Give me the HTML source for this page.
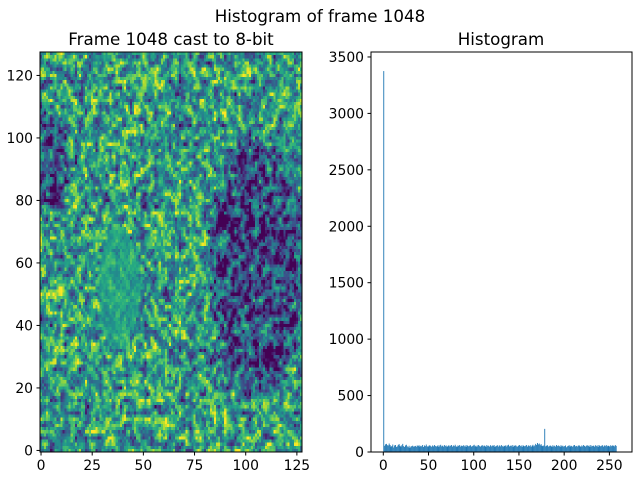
<!DOCTYPE html>
<html><head><meta charset="utf-8"><style>
body{margin:0;background:#fff;font-family:"DejaVu Sans","Liberation Sans",sans-serif}
#wrap{position:relative;width:640px;height:480px}
canvas{position:absolute}
</style></head><body>
<div id="wrap">
<canvas id="img" width="128" height="128" style="left:40px;top:52px;width:262px;height:400px;image-rendering:pixelated"></canvas>
<svg id="svg" width="640" height="480" style="position:absolute;left:0;top:0"></svg>
</div>
<script>
const histCounts=[3375,55,68,72,60,58,75,62,48,52,66,40,58,62,45,50,63,70,55,48,60,72,52,45,58,64,50,42,55,38,48,52,56,48,50,54,46,58,52,60,48,55,50,62,45,58,52,66,50,48,
56,60,52,46,58,50,62,54,48,52,60,46,58,64,50,56,48,62,52,58,46,54,60,50,56,62,48,58,52,64,50,46,58,54,62,48,56,52,60,50,58,46,62,54,50,56,60,48,52,58,
64,50,56,46,58,62,52,48,56,60,50,58,54,46,62,52,56,48,60,50,58,54,62,46,52,56,60,48,58,50,62,54,46,56,52,60,48,58,64,50,56,52,62,46,58,54,60,50,48,56,
62,52,58,46,60,54,50,56,62,48,58,52,60,46,56,64,50,58,72,62,80,68,75,60,70,56,52,58,205,50,56,60,48,52,58,54,46,60,50,56,48,62,52,58,54,46,60,50,56,48,
52,58,42,50,54,60,48,56,52,46,58,62,50,54,48,56,60,52,46,58,50,62,54,48,56,60,52,58,46,62,50,54,56,48,60,52,58,46,62,54,50,56,60,48,58,52,62,50,56,54,
48,60,52,58,56,50,62,54];
const histXTicks=[0,50,100,150,200,250];
const histYTicks=[0,500,1000,1500,2000,2500,3000,3500];
const imgXTicks=[0,25,50,75,100,125];
const imgYTicks=[0,20,40,60,80,100,120];
const NS="http://www.w3.org/2000/svg";
const svg=document.getElementById('svg');
function mk(t,a,txt){const e=document.createElementNS(NS,t);for(const k in a)e.setAttribute(k,a[k]);if(txt!==undefined)e.textContent=txt;svg.appendChild(e);return e;}
let t=mk('text',{x:320,y:22,'text-anchor':'middle','font-size':16.7,fill:'#000'},'Histogram of frame 1048');

t=mk('text',{x:171,y:45,'text-anchor':'middle','font-size':16.7,fill:'#000'},'Frame 1048 cast to 8-bit');

t=mk('text',{x:501,y:45,'text-anchor':'middle','font-size':16.7,fill:'#000'},'Histogram');

const iL=40,iR=302,iT=52,iB=452;
const ix=v=>iL+(v+0.5)/128*(iR-iL), iy=v=>iB-(v+0.5)/128*(iB-iT);
imgXTicks.forEach(v=>{const x=ix(v);let l=mk('line',{x1:x,x2:x,y1:iB,y2:iB+3.5,stroke:'#000'});
let s=mk('text',{x:x,y:iB+18,'text-anchor':'middle','font-size':13.9},v);});
imgYTicks.forEach(v=>{const y=iy(v);let l=mk('line',{x1:iL-3.5,x2:iL,y1:y,y2:y,stroke:'#000'});
let s=mk('text',{x:iL-7,y:y+5,'text-anchor':'end','font-size':13.9},v);});
let r=mk('rect',{x:iL,y:iT,width:iR-iL,height:iB-iT,fill:'none',stroke:'#000','stroke-width':1});

const hL=371,hR=632,hT=52,hB=452,xmin=-13.6,xmax=275,ymax=3544;
const hx=v=>hL+(v-xmin)/(xmax-xmin)*(hR-hL), hy=v=>hB-v/ymax*(hB-hT);
histCounts.forEach((c,i)=>{const x0=hx(i),x1=hx(i+1);let b=mk('rect',{x:x0,y:hy(c),width:Math.max(x1-x0,0.6),height:hB-hy(c),fill:'#1f77b4'});
});
histXTicks.forEach(v=>{const x=hx(v);let l=mk('line',{x1:x,x2:x,y1:hB,y2:hB+3.5,stroke:'#000'});
let s=mk('text',{x:x,y:hB+18,'text-anchor':'middle','font-size':13.9},v);});
histYTicks.forEach(v=>{const y=hy(v);let l=mk('line',{x1:hL-3.5,x2:hL,y1:y,y2:y,stroke:'#000'});
let s=mk('text',{x:hL-7,y:y+5,'text-anchor':'end','font-size':13.9},v);});
r=mk('rect',{x:hL,y:hT,width:hR-hL,height:hB-hT,fill:'none',stroke:'#000','stroke-width':1});

// image texture
const cv=document.getElementById('img'),ctx=cv.getContext('2d'),id=ctx.createImageData(128,128);
const vir=[[68,1,84],[71,45,123],[59,82,139],[44,114,142],[33,145,140],[40,174,128],[94,201,98],[173,220,48],[253,231,37]];
function cmap(v){v=Math.max(0,Math.min(1,v))*8;const i=Math.min(7,Math.floor(v)),f=v-i;return vir[i].map((a,j)=>a+(vir[i+1][j]-a)*f);}
function h(x,y){let n=Math.sin(x*127.1+y*311.7+17.3)*43758.5453;return n-Math.floor(n);}
function vn(x,y){const x0=Math.floor(x),y0=Math.floor(y),fx=x-x0,fy=y-y0;
 const a=h(x0,y0),b=h(x0+1,y0),c=h(x0,y0+1),d=h(x0+1,y0+1);
 return a*(1-fx)*(1-fy)+b*fx*(1-fy)+c*(1-fx)*fy+d*fx*fy;}
for(let r2=0;r2<128;r2++)for(let c=0;c<128;c++){
 const yv=127-r2;
 let v=0.55+0.85*(vn(c/1.7,yv/2.0)-0.5)+0.3*(h(c+300,yv)-0.5);
 let dark=0;
 const dx=(c-106)/24,dy=(yv-60)/42; const d1=dx*dx+dy*dy; if(d1<1.2)dark=0.33*Math.min(1,(1.2-d1)*2);
 const ex=(c-4)/12,ey=(yv-92)/18; const d2=ex*ex+ey*ey; if(d2<1)dark=Math.max(dark,0.3*Math.min(1,(1-d2)*2));
 const gx=(c-38)/10,gy=(yv-52)/20; if(gx*gx+gy*gy<1)v=v*0.4+0.35;
 v=v-dark;
 const col=cmap(v);
 const p=(r2*128+c)*4;id.data[p]=col[0];id.data[p+1]=col[1];id.data[p+2]=col[2];id.data[p+3]=255;}
ctx.putImageData(id,0,0);
</script></body></html>
